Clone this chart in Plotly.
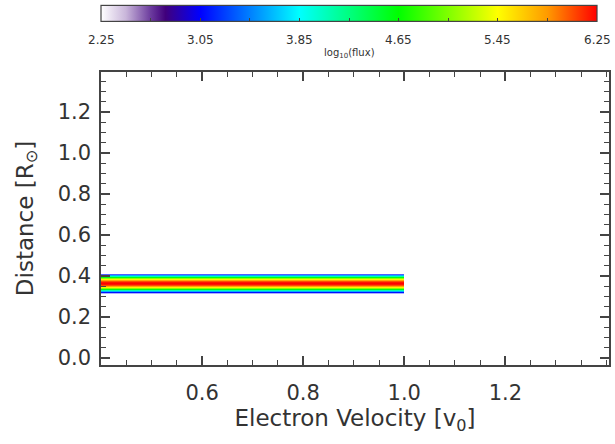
import plotly.graph_objects as go

# ---- data ----
velocity_edges = [0.40, 1.00]          # electron velocity extent [v0]
distance = [0.315, 0.320, 0.325, 0.330, 0.335, 0.340, 0.345, 0.350, 0.355, 0.360,
            0.365, 0.370, 0.375, 0.380, 0.385, 0.390, 0.395, 0.400, 0.405]
log_flux = [3.1, 3.6, 4.1, 4.6, 5.1, 5.5, 5.8, 6.05, 6.2, 6.25,
            6.2, 6.05, 5.8, 5.5, 5.1, 4.6, 4.1, 3.6, 3.1]
cbar_labels = [2.25, 3.05, 3.85, 4.65, 5.45, 6.25]
cbar_all_ticks = [2.25, 2.65, 3.05, 3.45, 3.85, 4.25, 4.65, 5.05, 5.45, 5.85, 6.25]
x_ticks = [0.6, 0.8, 1.0, 1.2]
y_ticks = [0.0, 0.2, 0.4, 0.6, 0.8, 1.0, 1.2]

colorscale = [
    [0.00, "#ffffff"], [0.05, "#c9b6da"], [0.10, "#6c3c9e"], [0.13, "#40007c"],
    [0.20, "#0000ff"], [0.40, "#00ffff"], [0.60, "#00ff00"], [0.80, "#ffff00"],
    [0.90, "#ff9a00"], [1.00, "#ff0000"],
]
ZMIN, ZMAX = 2.25, 6.25

W, H = 615, 444
L, R, T, B = 101, 6, 72, 79
ph = H - T - B
pw = W - L - R
CB_LEN = 496           # colorbar length in px
CB_TOP, CB_BOT = 8, 24 # colorbar pixel rows
TXT = "#333"
AX = "#444"

def py(p):  # pixel row -> paper y
    return (H - B - p) / ph

def cbx(v):  # colorbar value -> paper x
    return (v - ZMIN) / (ZMAX - ZMIN) * CB_LEN / pw

z = [[v] for v in log_flux]

fig = go.Figure()
fig.add_trace(go.Heatmap(
    x=velocity_edges, y=distance, z=z,
    zmin=ZMIN, zmax=ZMAX, colorscale=colorscale,
    colorbar=dict(
        orientation="h", x=0, xanchor="left", lenmode="pixels", len=CB_LEN,
        y=py((CB_TOP + CB_BOT) / 2), yanchor="middle",
        thickness=CB_BOT - CB_TOP, thicknessmode="pixels",
        xpad=0, ypad=0, outlinecolor=AX, outlinewidth=1.2,
        tickmode="array", tickvals=cbar_all_ticks, ticks="inside", ticklen=4,
        tickwidth=1.2, tickcolor=AX, showticklabels=False,
    ),
))

# colorbar labels below the bar
annotations = []
for v in cbar_labels:
    annotations.append(dict(text=f"{v:.2f}", xref="paper", yref="paper", x=cbx(v), y=py(40),
                            xanchor="center", yanchor="middle", showarrow=False,
                            font=dict(size=12, color=TXT, family="DejaVu Sans")))
annotations.append(dict(text="log<sub>10</sub>(flux)", xref="paper", yref="paper",
                        x=cbx((ZMIN + ZMAX) / 2), y=py(54), xanchor="center", yanchor="middle",
                        showarrow=False, font=dict(size=10, color=TXT, family="DejaVu Sans")))

axis_common = dict(
    showline=True, linecolor=AX, linewidth=1.5, mirror="ticks",
    ticks="inside", ticklen=9, tickwidth=1.5, tickcolor=AX,
    showgrid=False, zeroline=False,
    tickfont=dict(size=21, color=TXT, family="DejaVu Sans"),
    minor=dict(ticks="inside", ticklen=5, tickwidth=1.2, tickcolor=AX, dtick=0.05),
)

fig.update_layout(
    width=W, height=H,
    margin=dict(l=L, r=R, t=T, b=B, autoexpand=False),
    paper_bgcolor="white", plot_bgcolor="white",
    annotations=annotations,
    xaxis=dict(range=[0.4, 1.405], tickvals=x_ticks, ticktext=[f"{v:.1f}" for v in x_ticks],
               ticklabelstandoff=8,
               title=dict(text="Electron Velocity [v<sub>0</sub>]", standoff=4,
                          font=dict(size=23, color=TXT, family="DejaVu Sans")),
               **axis_common),
    yaxis=dict(range=[-0.035, 1.395], tickvals=y_ticks, ticktext=[f"{v:.1f}" for v in y_ticks],
               ticklabelstandoff=4,
               title=dict(text="Distance [R<sub>⊙</sub>]", standoff=18,
                          font=dict(size=23, color=TXT, family="DejaVu Sans")),
               **axis_common),
)

fig.write_html("out.html")
